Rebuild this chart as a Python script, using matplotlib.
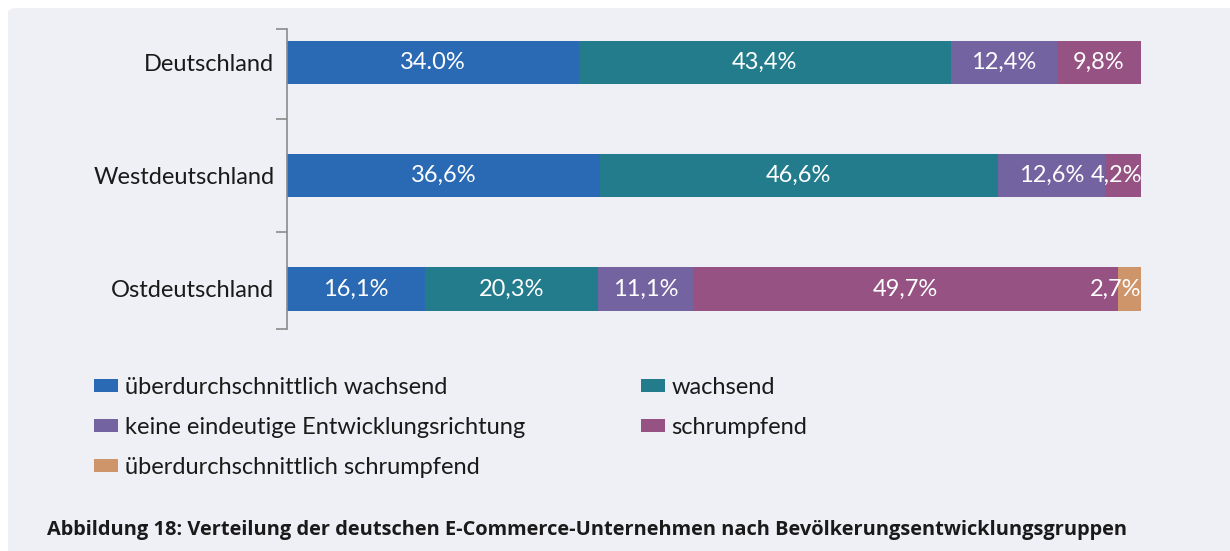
import numpy as np
import matplotlib.pyplot as plt
from matplotlib.patches import FancyBboxPatch, Patch

plt.rcParams['font.family'] = ['Lato', 'DejaVu Sans']

regions = ['Deutschland', 'Westdeutschland', 'Ostdeutschland']
groups = ['überdurchschnittlich wachsend', 'wachsend',
          'keine eindeutige Entwicklungsrichtung', 'schrumpfend',
          'überdurchschnittlich schrumpfend']
colors = ['#2a6ab4', '#237c8c', '#7463a1', '#955283', '#cf956a']

# shares per region, in order of groups
deutschland = [34.0, 43.4, 12.4, 9.8, 0.0]
westdeutschland = [36.6, 46.6, 12.6, 4.2, 0.0]
ostdeutschland = [16.1, 20.3, 11.1, 49.7, 2.7]
labels = [['34.0%', '43,4%', '12,4%', '9,8%', ''],
          ['36,6%', '46,6%', '12,6%', '4,2%', ''],
          ['16,1%', '20,3%', '11,1%', '49,7%', '2,7%']]

data = np.array([deutschland, westdeutschland, ostdeutschland])
# 100% stacked
data = data / data.sum(axis=1, keepdims=True) * 100

fig = plt.figure(figsize=(12.3, 5.51), dpi=100)
fig.patch.set_facecolor('white')
panel = FancyBboxPatch((8 / 1230, -0.05), 1.1, 1 - 8 / 551 + 0.05,
                       boxstyle='round,pad=0,rounding_size=0.008',
                       transform=fig.transFigure, facecolor='#eff0f6',
                       edgecolor='none', zorder=-5)
fig.patches.append(panel)

ax = fig.add_axes([287 / 1230, 1 - 329.3 / 551, (1141 - 287) / 1230, 300 / 551])
ax.set_facecolor('none')

y = np.arange(len(regions))
left = np.zeros(len(regions))
for j in range(len(groups)):
    w = data[:, j]
    ax.barh(y, w, left=left, height=0.384, color=colors[j], edgecolor='none')
    for i in range(len(regions)):
        if labels[i][j] == '':
            continue
        if w[i] < 6:
            ax.text(left[i] + w[i] + 0.1, y[i], labels[i][j], ha='right',
                    va='center', color='white', fontsize=17)
        else:
            ax.text(left[i] + w[i] / 2, y[i], labels[i][j], ha='center',
                    va='center', color='white', fontsize=17)
    left += w

ax.set_xlim(0, 100)
ax.set_ylim(2.356, -0.293)
ax.set_xticks([])
for s in ['top', 'right', 'bottom']:
    ax.spines[s].set_visible(False)
ax.spines['left'].set_color('#8a8a8a')
ax.spines['left'].set_linewidth(1.2)
ax.set_yticks(y)
ax.set_yticklabels(regions, fontsize=17, color='#1a1a1a')
ax.tick_params(axis='y', which='major', length=0, pad=9)
ax.set_yticks([-0.293, 0.5, 1.5, 2.356], minor=True)
ax.tick_params(axis='y', which='minor', length=8, width=1.2, color='#8a8a8a')

# legend filled row-wise: reorder for column-wise layout
order = [0, 2, 4, 1, 3]
handles = [Patch(facecolor=colors[k], edgecolor='none') for k in order]
fig.legend(handles, [groups[k] for k in order], ncol=2, frameon=False,
           loc='upper left', bbox_to_anchor=(73 / 1230, 1 - 356 / 551),
           fontsize=17, handlelength=1.0, handleheight=0.47, handletextpad=0.3,
           columnspacing=4.9, labelspacing=0.8, labelcolor='#1a1a1a')

fig.text(47 / 1230, 1 - 530 / 551,
         'Abbildung 18: Verteilung der deutschen E-Commerce-Unternehmen nach Bevölkerungsentwicklungsgruppen',
         fontsize=14.4, fontweight='bold', color='#1a1a1a', va='center',
         family=['Open Sans', 'DejaVu Sans'])

fig.savefig('out.png', dpi=100)
